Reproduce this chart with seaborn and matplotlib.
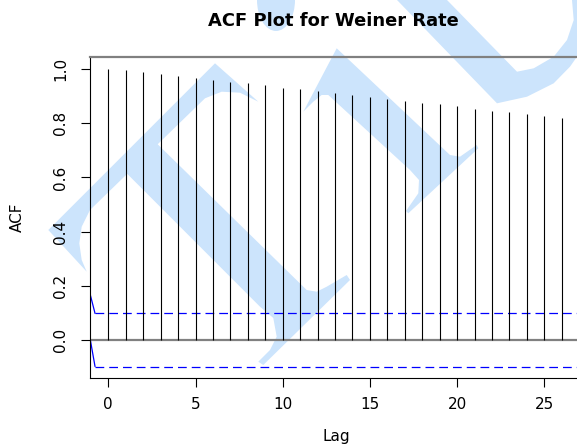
import numpy as np
import pandas as pd
import matplotlib
matplotlib.use("Agg")
import matplotlib.pyplot as plt
from matplotlib.patches import Polygon, Ellipse
import seaborn as sns

# ---------------- data ----------------
lags = list(range(0, 27))
acf_values = [1.000, 0.995, 0.988, 0.983, 0.973, 0.966, 0.961, 0.953, 0.947,
              0.941, 0.931, 0.925, 0.919, 0.913, 0.904, 0.897, 0.891, 0.881,
              0.876, 0.870, 0.862, 0.852, 0.846, 0.841, 0.834, 0.825, 0.818]
ci_bound = 0.098
# start of the confidence-bound traces (cut by the left frame)
bound_lag = [-1.03, -0.76]
upper_start = [0.166, 0.098]
lower_start = [0.000, -0.098]
x_ticks = [0, 5, 10, 15, 20, 25]
y_ticks = [0.0, 0.2, 0.4, 0.6, 0.8, 1.0]
y_tick_labels = ["0.0", "0.2", "0.4", "0.6", "0.8", "1.0"]
title = "ACF Plot for Weiner Rate"
x_label = "Lag"
y_label = "ACF"

df = pd.DataFrame({"lag": lags, "acf": acf_values})

# ---------------- style ----------------
sns.set_theme(style="white")
plt.rcParams["font.family"] = ["DejaVu Sans"]

W, H = 577, 444
fig = plt.figure(figsize=(W / 100, H / 100), dpi=100)
fig.patch.set_facecolor("white")

def fx(px):
    return px / W

def fy(py):
    return 1 - py / H

ax_left, ax_right, ax_top, ax_bottom = 90.3, 577.0, 56.7, 378.0
ax = fig.add_axes([fx(ax_left), fy(ax_bottom), fx(ax_right - ax_left),
                   (ax_bottom - ax_top) / H])
ax.patch.set_visible(False)

# ---------------- watermark (decoration, figure pixel space) ----------------
wm_color = "#cce4fc"
wm_shapes = [
    [(48.3, 230), (215, 63.3), (258.3, 101.7), (240, 92.7), (221.7, 91.7),
     (205, 98.3), (90, 210), (81.7, 226.7), (79.3, 243.3), (81.7, 260),
     (86.7, 271.7)],
    [(126.7, 173.3), (156.7, 143.3), (306.7, 290), (316.7, 291.7),
     (326.7, 286.7), (346.7, 275), (350, 280), (263.3, 365), (258.3, 361.7),
     (270, 350), (276.7, 336.7), (273.3, 318), (260, 306.7)],
    [(303.3, 111.7), (336.7, 48.3), (450, 155), (460, 156.7), (476.7, 145),
     (478.3, 148.3), (408.3, 213.3), (406, 211), (418.3, 193.3), (419, 180),
     (410, 170), (328.3, 95), (321.7, 95), (313.3, 101.7)],
    [(397, 0), (497, 103.3), (527, 96.7), (553.7, 83.3), (570, 66.7),
     (577, 56.7), (577, 0), (572, 0), (573.7, 20), (567, 40), (553.7, 56.7),
     (533.7, 68.3), (517, 71.7), (447, 0)],
]
for shp in wm_shapes:
    fig.patches.append(Polygon([(fx(x), fy(y)) for x, y in shp], closed=True,
                               transform=fig.transFigure, facecolor=wm_color,
                               edgecolor="none", zorder=-1))
fig.patches.append(Ellipse((fx(276), fy(0)), fx(38), 62 / H,
                           transform=fig.transFigure, facecolor=wm_color,
                           edgecolor="none", zorder=-1))

# ---------------- plot ----------------
xmin = (ax_left - 108.3) / 17.44
xmax = (ax_right - 108.3) / 17.44
ymin = -(ax_bottom - 340) / 271
ymax = (340 - ax_top) / 271

ax.vlines(df["lag"], 0, df["acf"], color="black", lw=0.8, zorder=3)
ax.axhline(0, color="#808080", lw=1.6, zorder=2)

sns.lineplot(x=bound_lag, y=upper_start, color="blue", lw=0.9, ax=ax,
             estimator=None, sort=False)
sns.lineplot(x=bound_lag, y=lower_start, color="blue", lw=0.9, ax=ax,
             estimator=None, sort=False)
ax.hlines([ci_bound, -ci_bound], bound_lag[1], xmax, colors="blue", lw=0.9,
          linestyles=(0, (7, 4)))

ax.set_xlim(xmin, xmax)
ax.set_ylim(ymin, ymax)
ax.set_xticks(x_ticks)
ax.set_yticks(y_ticks)
ax.set_yticklabels(y_tick_labels)

for side in ["left", "bottom"]:
    ax.spines[side].set_color("black")
    ax.spines[side].set_linewidth(0.8)
ax.spines["top"].set_color("#808080")
ax.spines["top"].set_linewidth(1.6)
ax.spines["right"].set_visible(False)

ax.tick_params(axis="both", which="major", length=6.3, width=0.8,
               color="black", labelsize=11, labelcolor="black",
               left=True, bottom=True)
ax.tick_params(axis="x", pad=7.5)
ax.tick_params(axis="y", pad=9.4)
for lab in ax.get_yticklabels():
    lab.set_rotation(90)
    lab.set_va("center")

ax.set_xlabel(x_label, fontsize=11, color="black")
ax.xaxis.label.set_va("baseline")
ax.xaxis.set_label_coords((336.7 - ax_left) / (ax_right - ax_left),
                          (ax_bottom - 441) / (ax_bottom - ax_top))
ax.set_ylabel(y_label, fontsize=11, color="black")
ax.yaxis.label.set_va("center")
ax.yaxis.set_label_coords((17.5 - ax_left) / (ax_right - ax_left), 0.5)

fig.text(fx(333), fy(26), title, ha="center", va="baseline",
         fontsize=12.9, fontweight="bold", color="black")

fig.savefig("out.png", dpi=100)
